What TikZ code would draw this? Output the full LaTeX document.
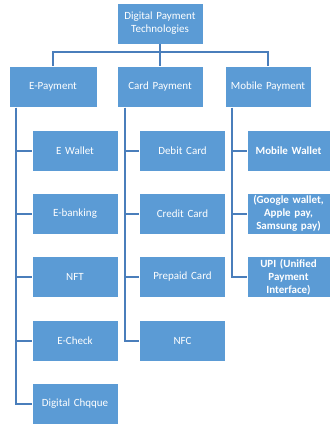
\documentclass[tikz,border=0pt]{standalone}
\usepackage{fontspec}
\setmainfont{Carlito}
\definecolor{boxblue}{HTML}{5B9BD5}
\definecolor{linkblue}{HTML}{4A7EBB}
\begin{document}
\begin{tikzpicture}[x=1bp,y=-1bp,
  box/.style={rectangle, fill=boxblue, draw=white, line width=0.6bp,
    text=white, align=center, inner sep=1bp,
    font=\fontsize{11bp}{13bp}\selectfont},
  topbox/.style={box, minimum width=86bp, minimum height=41bp, text width=80bp},
  leafbox/.style={box, minimum width=86bp, minimum height=41bp, text width=80bp},
  mobleaf/.style={box, minimum width=83bp, minimum height=41bp, text width=80bp,
    font=\fontsize{11bp}{13bp}\selectfont\bfseries},
  link/.style={draw=linkblue, line width=2bp}]
\useasboundingbox (0,0) rectangle (330,426);

% root and first level
\node[topbox] (root) at (160,23.5) {Digital Payment Technologies};
\node[topbox, minimum width=88bp] (ep) at (53,87) {E-Payment};
\node[topbox] (cp) at (160,87) {Card Payment};
\node[topbox] (mp) at (268,87) {Mobile Payment};

% E-Payment branch
\node[leafbox] (ew) at (75,150.5) {E Wallet};
\node[leafbox] (eb) at (75,213.5) {E-banking};
\node[leafbox] (nft) at (75,277) {NFT};
\node[leafbox] (ec) at (75,340.5) {E-Check};
\node[leafbox] (dc) at (75,403.5) {Digital Chqque};

% Card Payment branch
\node[leafbox] (debit) at (182.5,150.5) {Debit Card};
\node[leafbox] (credit) at (182.5,213.5) {Credit Card};
\node[leafbox] (prepaid) at (182.5,277) {Prepaid Card};
\node[leafbox] (nfc) at (182.5,340.5) {NFC};

% Mobile Payment branch
\node[mobleaf] (mw) at (288.5,150.5) {Mobile Wallet};
\node[mobleaf] (gap) at (288.5,213.5) {(Google wallet,\\ Apple pay,\\ Samsung pay)};
\node[mobleaf] (upi) at (288.5,277) {UPI (Unified\\ Payment\\ Interface)};

% connectors from the root
\coordinate (bus) at (160,52);
\draw[link] (root.south) -- (bus);
\draw[link] (ep.north) |- (bus) -| (mp.north);
\draw[link] (bus) -- (cp.north);

% rails down each branch
\foreach \c in {ew,eb,nft,ec,dc}
  \draw[link] ([xshift=7bp]ep.south west) |- (\c.west);
\foreach \c in {debit,credit,prepaid,nfc}
  \draw[link] ([xshift=8bp]cp.south west) |- (\c.west);
\foreach \c in {mw,gap,upi}
  \draw[link] ([xshift=7bp]mp.south west) |- (\c.west);
\end{tikzpicture}
\end{document}
